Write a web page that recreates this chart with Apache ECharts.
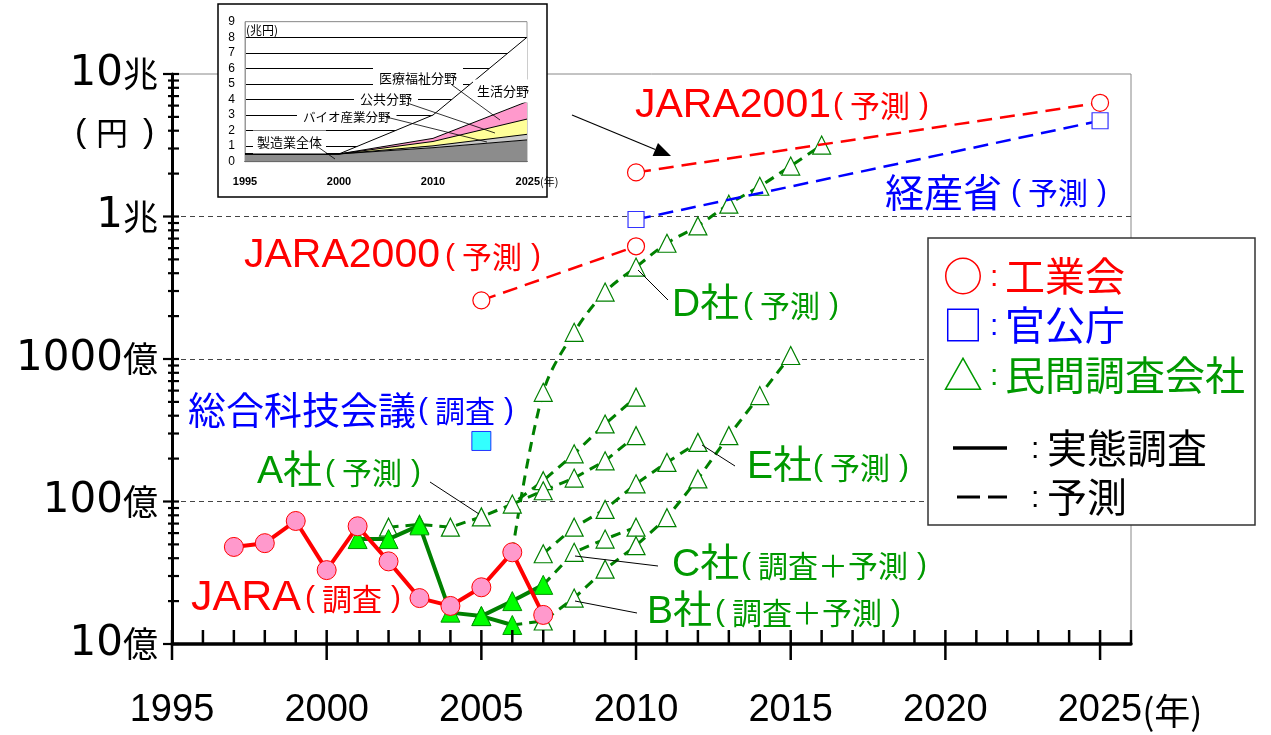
<!DOCTYPE html>
<html><head><meta charset="utf-8">
<script src="https://cdn.jsdelivr.net/npm/echarts@6/dist/echarts.min.js"></script>
<style>html,body{margin:0;padding:0;background:#fff}#c{width:1271px;height:735px}</style>
</head><body><div id="c"></div>
<script>
// ---- main chart data (unit: 億円) ----
const jaraSurvey   = [[1997,48],[1998,51],[1999,73],[2000,33],[2001,67],[2002,38],[2003,21],[2004,18.5],[2005,25],[2006,44],[2007,16]];
const greenSurvey1 = [[2001,54.5],[2002,54.5],[2003,68],[2004,16.6],[2005,15.7],[2006,13.6]];
const greenSurvey2 = [[2005,15.7],[2006,20],[2007,26]];
const companyA     = [[2002,66],[2003,69],[2004,66],[2005,78],[2006,96],[2007,140],[2008,216],[2009,350],[2010,540]];
const companyA2    = [[2006,96],[2007,119],[2008,146],[2009,193],[2010,290]];
const companyD     = [[2006,44],[2007,584],[2008,1540],[2009,2950],[2010,4420],[2011,6490],[2012,8590],[2013,12200],[2014,16300],[2015,22600],[2016,31700]];
const companyE     = [[2007,43],[2008,66],[2009,88],[2010,133],[2011,188],[2012,260]];
const companyC     = [[2007,26],[2008,44],[2009,54.5],[2010,66]];
const companyB     = [[2006,13.6],[2007,14.5],[2008,21],[2009,33.5],[2010,49],[2011,77],[2012,144],[2013,290],[2014,554],[2015,1058]];
const jara2000     = [[2005,2580],[2010,6180]];
const jara2001     = [[2010,20400],[2025,62800]];
const meti         = [[2010,9530],[2025,47000]];
const cstp         = [[2005,266]];
const yTickNums    = ['10','100','1000','1','10'];
const yTickUnits   = ['億','億','億','兆','兆'];

// ---- inset data (unit: 兆円) ----
const insetCats = ['1995','2000','2010','2025'];
const manuf     = [0.5,0.5,0.9,1.4];
const bio       = [0,0,0.12,0.36];
const publicS   = [0,0,0.28,0.98];
const medical   = [0,0,0.2,1.12];
const living    = [0,0,1.5,4.14];

// axis decoration tick positions
const xTickYears = []; for (let y = 1995; y <= 2026; y++) xTickYears.push(y);
const yTickVals = []; for (let e = 1; e <= 5; e++) { for (let m = 1; m <= 9; m++) { const v = m * Math.pow(10, e); if (v <= 100000) yTickVals.push(v); } }

const CJK = "'Noto Sans CJK JP', sans-serif";
const LAT = "'Liberation Sans', 'Noto Sans CJK JP', sans-serif";
const RED = '#ff0000', BLUE = '#0000ff', GREEN_T = '#009900', GREEN_L = '#008000';

function T(x, y, text, size, color, fam, extra, z) {
  return { type:'text', x, y, z: z || 20, silent: true,
    style: Object.assign({ text, fill: color, font: size + 'px ' + (fam || LAT),
      align:'left', textAlign:'left', verticalAlign:'middle', textVerticalAlign:'middle' }, extra || {}) };
}
// parenthesised annotation: s = left ink edge of "("
function P(s, y, inner, color, size) {
  size = size || 30;
  const n = inner.length;
  return [
    T(s - 2, y, '(', size, color, "'Liberation Sans'"),
    T(s + 15, y, inner, size, color, CJK),
    T(s + 15 + n * size + 9, y, ')', size, color, "'Liberation Sans'")
  ];
}
function L(x1, y1, x2, y2, w, color, z) {
  return { type:'line', z: z || 20, silent: true, shape:{x1,y1,x2,y2}, style:{ stroke: color || '#000', lineWidth: w || 1 } };
}
function arrow(x1, y1, x2, y2) {
  const dx = x2 - x1, dy = y2 - y1, len = Math.hypot(dx, dy), ux = dx/len, uy = dy/len;
  const bx = x2 - ux*17, by = y2 - uy*17, px = -uy*7, py = ux*7;
  return [L(x1, y1, bx, by, 1.2, '#000'),
    { type:'polygon', z:20, silent:true, shape:{points:[[x2,y2],[bx+px,by+py],[bx-px,by-py]]}, style:{fill:'#000'} }];
}

const first = (arr) => arr.map((p, i) => i === 0 ? { value: p, symbol: 'none' } : p);

function greenForecast(data, extra) {
  return Object.assign({ type:'line', xAxisIndex:0, yAxisIndex:0, data, z:2, symbol:'triangle', symbolSize:[18,18],
    lineStyle:{ color: GREEN_L, width: 3, type: [10,7] },
    itemStyle:{ color:'#ffffff', borderColor: GREEN_L, borderWidth: 1.2 } }, extra || {});
}
function greenSurvey(data) {
  return { type:'line', xAxisIndex:0, yAxisIndex:0, data, z:3, symbol:'triangle', symbolSize:[19,19],
    lineStyle:{ color: GREEN_L, width: 4 },
    itemStyle:{ color:'#00ff00', borderColor:'#009000', borderWidth: 1 } };
}
function insetArea(data, color) {
  return { type:'line', xAxisIndex:1, yAxisIndex:1, stack:'inset', data, symbol:'none', z:4,
    lineStyle:{ color:'#000', width:1 }, areaStyle:{ color, opacity:1 } };
}

const graphic = [
  // inset box
  { type:'rect', z:1, silent:true, shape:{x:218,y:4,width:329,height:193}, style:{fill:'#fff', stroke:'#000', lineWidth:1.5} },
  T(246, 30, '(兆円)', 12, '#000', CJK, null, 6),
  T(373, 78.5, '医療福祉分野', 13, '#000', CJK, {backgroundColor:'#fff', padding:[5,6]}, 6),
  T(473, 91, '生活分野', 13, '#000', CJK, {backgroundColor:'#fff', padding:[5,4]}, 6),
  T(354, 99.5, '公共分野', 13, '#000', CJK, {backgroundColor:'#fff', padding:[5,6]}, 6),
  T(297, 117, 'バイオ産業分野', 12.5, '#000', CJK, {backgroundColor:'#fff', padding:[5,6]}, 6),
  T(253, 142, '製造業全体', 13, '#000', CJK, {backgroundColor:'#fff', padding:[5,4]}, 6),
  L(452, 85, 500, 120, 0.8, '#000', 7),
  L(407, 103, 495, 133, 0.8, '#000', 7),
  L(386, 117, 487, 142, 0.8, '#000', 7),
  L(318, 147, 335, 159, 0.8, '#000', 7),
  ...arrow(572, 115, 671, 156),

  // y-axis unit
  T(75, 133, '(', 34, '#000', "'Liberation Sans'"),
  T(96, 133, '円', 32, '#000', CJK),
  T(143, 133, ')', 34, '#000', "'Liberation Sans'"),

  // annotations
  T(635, 106, 'JARA2001', 41, RED), ...P(835, 106, '予測', RED),
  T(885, 192, '経産省', 39, BLUE, CJK), ...P(1013, 193, '予測', BLUE),
  T(244, 256, 'JARA2000', 41, RED), ...P(447, 257, '予測', RED),
  T(188, 410, '総合科技会議', 38, BLUE, CJK), ...P(420, 411, '調査', BLUE),
  T(257, 472, 'A社', 39, GREEN_T), ...P(327, 473, '予測', GREEN_T),
  T(672, 305, 'D社', 39, GREEN_T), ...P(745, 306, '予測', GREEN_T),
  T(747, 467, 'E社', 39, GREEN_T), ...P(815, 468, '予測', GREEN_T),
  T(672, 565, 'C社', 39, GREEN_T), ...P(743, 566, '調査＋予測', GREEN_T),
  T(647, 612, 'B社', 39, GREEN_T), ...P(717, 613, '調査＋予測', GREEN_T),
  T(191, 598, 'JARA', 43, RED), ...P(307, 599, '調査', RED),
  L(430, 482, 479, 514, 1, '#000'),
  L(638, 270, 668, 300, 1, '#000'),
  L(702, 445, 735, 466, 1, '#000'),
  L(575, 556, 658, 566, 1, '#000'),
  L(575, 601, 637, 613, 1, '#000'),

  // legend box
  { type:'rect', z:9, silent:true, shape:{x:928,y:238,width:327,height:287}, style:{fill:'#fff', stroke:'#333', lineWidth:1.5} },
  T(943, 276, '○', 40, RED, CJK), T(990, 278, ':', 30, RED), T(1005, 276, '工業会', 40, RED, CJK),
  T(943, 325, '□', 40, BLUE, CJK), T(990, 327, ':', 30, BLUE), T(1005, 325, '官公庁', 40, BLUE, CJK),
  T(943, 375, '△', 40, GREEN_T, CJK), T(990, 377, ':', 30, GREEN_T), T(1005, 375, '民間調査会社', 40, GREEN_T, CJK),
  L(953, 448, 1007, 448, 3.5, '#000'), T(1031, 450, ':', 30, '#000'), T(1047, 448, '実態調査', 40, '#000', CJK),
  L(957, 497, 980, 497, 3, '#000'), L(988, 497, 1007, 497, 3, '#000'), T(1031, 499, ':', 30, '#000'), T(1047, 497, '予測', 40, '#000', CJK)
];

const option = {
  animation: false,
  textStyle: { fontFamily: LAT },
  graphic,
  grid: [
    { left:172, top:74, width:959, height:570, show:true, borderColor:'#888', borderWidth:1, backgroundColor:'transparent', z:0 },
    { left:245, top:21.7, width:282, height:140, show:true, borderColor:'#999', borderWidth:1, backgroundColor:'transparent', z:3 }
  ],
  xAxis: [
    { type:'value', gridIndex:0, min:1995, max:2026, interval:5,
      axisLine:{ show:true, onZero:false, lineStyle:{ color:'#000', width:3.5 } },
      axisTick:{ show:false }, splitLine:{ show:false },
      axisLabel:{ fontSize:38, fontFamily:"'Liberation Sans'", color:'#000', margin:48,
        formatter: v => v === 2025 ? '{p|}2025{n|(年)}' : (v % 5 === 0 && v <= 2025 ? String(v) : ''),
        rich:{ p:{ width:60 }, n:{ fontSize:36, fontFamily: CJK, color:'#000' } } } },
    { type:'category', gridIndex:1, data: insetCats, boundaryGap:false, z:3,
      axisLine:{ show:true, onZero:false, lineStyle:{ color:'#000', width:1 } },
      axisTick:{ show:false },
      axisLabel:{ fontSize:11, fontWeight:'bold', color:'#000', margin:15, interval:0,
        formatter: v => v === '2025' ? '{p|}2025{n|(年)}' : v,
        rich:{ p:{ width:20 }, n:{ fontSize:11, fontWeight:'normal', fontFamily: CJK, color:'#000' } } } }
  ],
  yAxis: [
    { type:'log', logBase:10, gridIndex:0, min:10, max:100000,
      axisLine:{ show:true, onZero:false, lineStyle:{ color:'#000', width:3 } },
      axisTick:{ show:false },
      axisLabel:{ color:'#000', margin:14,
        formatter: v => { const i = Math.round(Math.log10(v)) - 1; return yTickNums[i] ? '{d|' + yTickNums[i] + '}{k|' + yTickUnits[i] + '}' : ''; },
        rich:{ d:{ fontFamily:"'DejaVu Sans'", fontSize:42, color:'#000' }, k:{ fontFamily: CJK, fontSize:35, color:'#000' } } },
      splitLine:{ show:true, lineStyle:{ color:['#444','#444','#444','#444','rgba(0,0,0,0)'], width:1, type:[5,4] } } },
    { type:'value', gridIndex:1, min:0, max:9, interval:1, z:3,
      axisLine:{ show:true, onZero:false, lineStyle:{ color:'#999', width:1 } },
      axisTick:{ show:false },
      axisLabel:{ fontSize:12, color:'#000', margin:10 },
      splitLine:{ show:true, lineStyle:{ color:['#000','#000','#000','#000','#000','#000','#000','#000','#000','#999'], width:1 } } }
  ],
  series: [
    // inset stacked areas
    insetArea(manuf, '#8c8c8c'),
    insetArea(bio, '#c8c8c8'),
    insetArea(publicS, '#ffff99'),
    insetArea(medical, '#ff99cc'),
    insetArea(living, '#ffffff'),

    // green forecasts
    greenForecast(companyA),
    greenForecast(first(companyA2)),
    greenForecast(first(companyD), { smooth: 0.35 }),
    greenForecast(companyE),
    greenForecast(first(companyC)),
    greenForecast(first(companyB)),
    // green surveys
    greenSurvey(greenSurvey1),
    greenSurvey(greenSurvey2),
    // JARA survey
    { type:'line', xAxisIndex:0, yAxisIndex:0, data: jaraSurvey, z:4, symbol:'circle', symbolSize:19,
      lineStyle:{ color: RED, width:4 }, itemStyle:{ color:'#ff99cc', borderColor: RED, borderWidth:1 } },
    // forecasts by associations / ministry
    { type:'line', xAxisIndex:0, yAxisIndex:0, data: jara2000, z:4, symbol:'circle', symbolSize:17,
      lineStyle:{ color: RED, width:2.5, type:[15,8] }, itemStyle:{ color:'#fff', borderColor: RED, borderWidth:1.2 } },
    { type:'line', xAxisIndex:0, yAxisIndex:0, data: jara2001, z:4, symbol:'circle', symbolSize:17,
      lineStyle:{ color: RED, width:2.5, type:[15,8] }, itemStyle:{ color:'#fff', borderColor: RED, borderWidth:1.2 } },
    { type:'line', xAxisIndex:0, yAxisIndex:0, data: meti, z:4, symbol:'rect', symbolSize:16,
      lineStyle:{ color: BLUE, width:2.5, type:[15,8] }, itemStyle:{ color:'#fff', borderColor:'#3333ff', borderWidth:1.2 } },
    { type:'scatter', xAxisIndex:0, yAxisIndex:0, data: cstp, z:4, symbol:'rect', symbolSize:19,
      itemStyle:{ color:'#00ffff', borderColor: BLUE, borderWidth:1 } },

    // axis tick marks
    { type:'custom', xAxisIndex:0, yAxisIndex:0, data: xTickYears.map(y => [y, 10]), clip:false, silent:true, z:5,
      renderItem: (p, api) => { const yr = api.value(0); const pt = api.coord([yr, 10]); const major = yr % 5 === 0;
        return { type:'line', shape:{ x1:pt[0], y1:pt[1]-14, x2:pt[0], y2:pt[1]+(major?16:0) }, style:{ stroke:'#000', lineWidth:2.5 } }; } },
    { type:'custom', xAxisIndex:0, yAxisIndex:0, data: yTickVals.map(v => [1995, v]), clip:false, silent:true, z:5,
      renderItem: (p, api) => { const v = api.value(1); const pt = api.coord([1995, v]);
        const lg = Math.log10(v); const major = Math.abs(lg - Math.round(lg)) < 1e-6;
        return { type:'line', shape:{ x1:pt[0]-(major?9:4), y1:pt[1], x2:pt[0]+7, y2:pt[1] }, style:{ stroke:'#000', lineWidth:2.2 } }; } }
  ]
};
const chart = echarts.init(document.getElementById('c'), null, { renderer:'canvas' });
chart.setOption(option);
</script>
</body></html>
